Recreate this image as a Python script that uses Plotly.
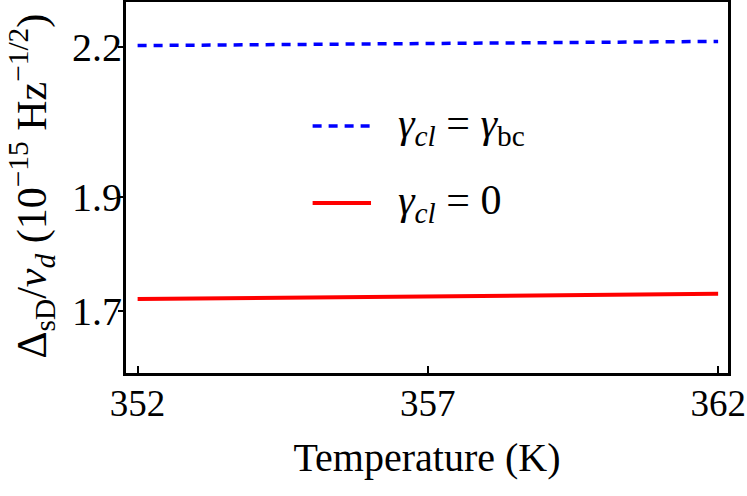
import math
import plotly.graph_objects as go

# temperature (K)
temperature = [352, 354, 356, 358, 360, 362]

# Delta_sD / nu_d  (10^-15 Hz^-1/2)
gamma_bc = [2.204, 2.206, 2.207, 2.209, 2.211, 2.213]
gamma_zero = [1.720, 1.722, 1.7235, 1.725, 1.727, 1.729]

x_ticks = [352, 357, 362]
y_ticks = [1.7, 1.9, 2.2]
y_ticktext = ["1.7", "1.9", "2.2"]

legend_labels = ["<i>γ<sub>cl</sub></i> = <i>γ</i><sub>bc</sub>",
                 "<i>γ<sub>cl</sub></i> = 0"]
y_title = "Δ<sub>sD</sub>/<i>ν<sub>d</sub></i> (10<sup>−15</sup> Hz<sup>−1/2</sup>)"

font = "Liberation Serif, Times New Roman, serif"

fig = go.Figure()

fig.add_trace(go.Scatter(
    x=temperature, y=gamma_bc, mode="lines",
    line=dict(color="#0000ff", width=3.5, dash="9px,7px"),
    showlegend=False
))
fig.add_trace(go.Scatter(
    x=temperature, y=gamma_zero, mode="lines",
    line=dict(color="#ff0000", width=4),
    showlegend=False
))

# hand made legend (samples + labels)
fig.add_shape(type="line", xref="paper", yref="paper",
              x0=0.31, x1=0.407, y0=0.666, y1=0.666,
              line=dict(color="#0000ff", width=3.5, dash="9px,7px"))
fig.add_shape(type="line", xref="paper", yref="paper",
              x0=0.31, x1=0.407, y0=0.458, y1=0.458,
              line=dict(color="#ff0000", width=4))
for lbl, yy in zip(legend_labels, [0.666, 0.458]):
    fig.add_annotation(text=lbl, xref="paper", yref="paper",
                       x=0.449, y=yy, xanchor="left", yanchor="middle",
                       showarrow=False, font=dict(family=font, size=42, color="black"))

# y axis title as a rotated annotation so it can sit close to the page edge
fig.add_annotation(text=y_title, xref="paper", yref="paper",
                   x=-0.158, y=0.505, xanchor="center", yanchor="middle",
                   textangle=-90, showarrow=False,
                   font=dict(family=font, size=42, color="black"))

fig.update_xaxes(
    range=[351.8, 362.17],
    tickvals=x_ticks, automargin=False,
    ticks="inside", ticklen=7, tickwidth=2, tickcolor="black",
    showline=True, linecolor="black", linewidth=3, mirror=True,
    showgrid=False, zeroline=False,
    ticklabeloverflow="allow", ticklabelstandoff=-4,
    tickfont=dict(family=font, size=37, color="black"),
    title=dict(text="Temperature (K)", standoff=20,
               font=dict(family=font, size=40, color="black"))
)
fig.update_yaxes(
    type="log", automargin=False,
    range=[math.log10(1.6), math.log10(2.3)],
    tickvals=y_ticks, ticktext=y_ticktext,
    ticks="outside", ticklen=5, tickwidth=2, tickcolor="black",
    showline=True, linecolor="black", linewidth=3, mirror=True,
    showgrid=False, zeroline=False,
    ticklabelstandoff=-12,
    tickfont=dict(family=font, size=40, color="black")
)

fig.update_layout(
    width=747, height=496,
    margin=dict(l=126, r=19, t=2, b=123),
    plot_bgcolor="white", paper_bgcolor="white",
    showlegend=False
)

# drop the default 8px page margin so the figure fills the window
fig.write_html("out.html", config={"displayModeBar": False},
               post_script="document.body.style.margin='0px';")
